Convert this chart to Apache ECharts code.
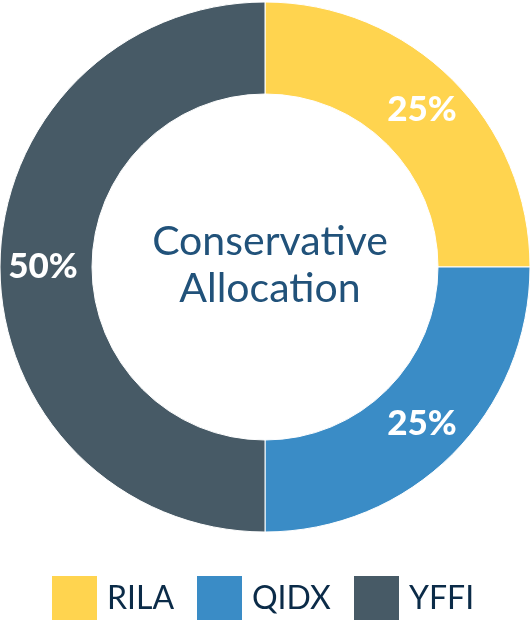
<!DOCTYPE html>
<html>
<head>
<meta charset="utf-8">
<script src="https://cdn.jsdelivr.net/npm/echarts@6/dist/echarts.min.js"></script>
<style>
  html, body { margin: 0; padding: 0; background: #ffffff; }
  #chart { width: 530px; height: 627px; }
</style>
</head>
<body>
<div id="chart"></div>
<script>
// Fund allocation shares (percent)
const funds = ['RILA', 'QIDX', 'YFFI'];
const shares = [25, 25, 50];
const fundColors = ['#FFD44F', '#3A8CC6', '#475A66'];
const centerTitle = ['Conservative', 'Allocation'];

// Legend row layout: left edge of each swatch
const legendX = [52, 197, 354];
const legendTop = 576;
const swatch = 44;

const chart = echarts.init(document.getElementById('chart'), null, { renderer: 'canvas' });

const legendItems = [];
funds.forEach((name, i) => {
  legendItems.push({
    type: 'rect',
    left: legendX[i],
    top: legendTop,
    shape: { width: swatch + 1, height: swatch },
    style: { fill: fundColors[i] },
    silent: true
  });
  legendItems.push({
    type: 'text',
    left: legendX[i] + swatch + 11,
    top: legendTop + 7,
    style: {
      text: name,
      font: '400 32px Lato',
      fill: '#0B2B48'
    },
    silent: true
  });
});

chart.setOption({
  animation: false,
  backgroundColor: '#ffffff',
  color: fundColors,
  title: {
    text: centerTitle.join('\n'),
    left: 265,
    top: 213,
    textAlign: 'center',
    textStyle: {
      fontFamily: 'Lato',
      fontWeight: 400,
      fontSize: 41,
      lineHeight: 47,
      color: '#21527A'
    }
  },
  graphic: legendItems,
  series: [{
    type: 'pie',
    center: [265, 267],
    radius: [173, 265],
    startAngle: 90,
    clockwise: true,
    avoidLabelOverlap: false,
    itemStyle: { borderColor: '#ffffff', borderWidth: 1 },
    label: {
      show: true,
      position: 'inside',
      formatter: '{c}%',
      fontFamily: 'Lato',
      fontWeight: 900,
      fontSize: 35,
      color: '#ffffff'
    },
    labelLine: { show: false },
    emphasis: { disabled: true },
    data: funds.map((name, i) => ({ name: name, value: shares[i] }))
  }]
});
</script>
</body>
</html>
